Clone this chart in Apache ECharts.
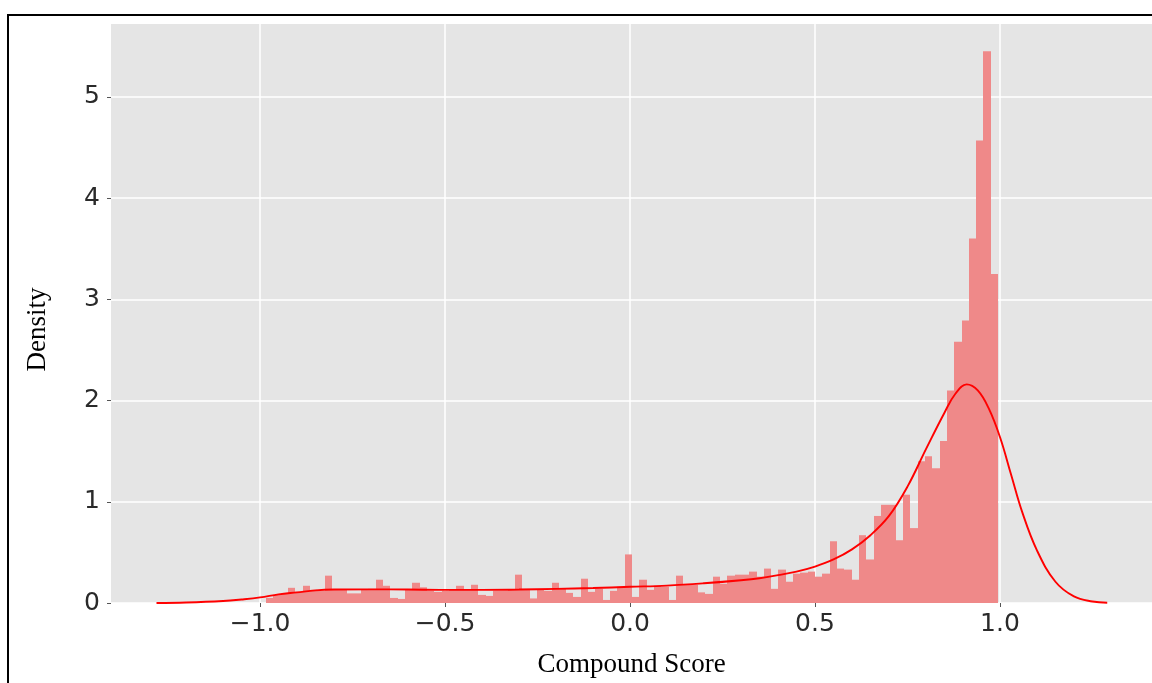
<!DOCTYPE html>
<html><head><meta charset="utf-8">
<script src="https://cdn.jsdelivr.net/npm/echarts@6/dist/echarts.min.js"></script>
<style>html,body{margin:0;padding:0;background:#fff}#c{width:1152px;height:683px}</style>
</head><body><div id="c"></div>
<script>
// Histogram bins (density), 100 equal bins between binMin and binMax
const binMin = -0.984;
const binMax = 0.995;
const density = [
  0.05, 0.08, 0.09, 0.15, 0.11, 0.17, 0.13, 0.12, 0.27, 0.13,
  0.13, 0.095, 0.095, 0.13, 0.14, 0.23, 0.17, 0.05, 0.04, 0.13,
  0.20, 0.155, 0.12, 0.11, 0.12, 0.13, 0.17, 0.13, 0.18, 0.08,
  0.07, 0.12, 0.12, 0.13, 0.28, 0.13, 0.045, 0.13, 0.12, 0.20,
  0.14, 0.10, 0.06, 0.24, 0.11, 0.14, 0.03, 0.12, 0.16, 0.48,
  0.06, 0.23, 0.13, 0.17, 0.16, 0.03, 0.27, 0.18, 0.18, 0.105,
  0.09, 0.26, 0.19, 0.27, 0.28, 0.28, 0.31, 0.26, 0.34, 0.14,
  0.33, 0.21, 0.29, 0.30, 0.31, 0.26, 0.29, 0.61, 0.34, 0.33,
  0.23, 0.67, 0.43, 0.86, 0.97, 0.97, 0.62, 1.07, 0.74, 1.40,
  1.45, 1.33, 1.60, 2.10, 2.58, 2.79, 3.60, 4.57, 5.45, 3.25
];
// KDE curve
const kdeX = [-1.28, -1.2, -1.1, -1.05, -1.0, -0.95, -0.9, -0.85, -0.8, -0.7, -0.6, -0.5, -0.4, -0.3, -0.2, -0.1,
  0.0, 0.1, 0.2, 0.3, 0.35, 0.4, 0.45, 0.5, 0.55, 0.6, 0.65, 0.7, 0.75, 0.8, 0.85, 0.88, 0.91, 0.94, 0.97,
  1.0, 1.03, 1.06, 1.1, 1.15, 1.2, 1.25, 1.29];
const kdeY = [0.0, 0.005, 0.02, 0.035, 0.055, 0.085, 0.105, 0.125, 0.133, 0.135, 0.133, 0.13, 0.13, 0.133, 0.14, 0.148,
  0.16, 0.172, 0.195, 0.225, 0.245, 0.275, 0.31, 0.36, 0.43, 0.53, 0.67, 0.86, 1.15, 1.52, 1.88, 2.07, 2.16, 2.10, 1.92,
  1.64, 1.27, 0.90, 0.52, 0.21, 0.065, 0.015, 0.003];
const xTicks = [-1.0, -0.5, 0.0, 0.5, 1.0];
const yTicks = [0, 1, 2, 3, 4, 5];
const xMin = -1.403, xMax = 1.411;
const yMax = 5.72;

const binW = (binMax - binMin) / density.length;
const barData = density.map((d, i) => [binMin + i * binW, binMin + (i + 1) * binW, d]);
const kdeData = kdeX.map((x, i) => [x, kdeY[i]]);
const fmt = v => v.toFixed(1).replace('-', '\u2212');

const chart = echarts.init(document.getElementById('c'), null, {renderer: 'canvas'});
chart.setOption({
  animation: false,
  backgroundColor: '#fff',
  grid: {left: 111, top: 24, right: 0, bottom: 80, show: true, backgroundColor: '#e5e5e5', borderWidth: 0},
  xAxis: {
    type: 'value', min: xMin, max: xMax,
    name: 'Compound Score', nameLocation: 'middle', nameGap: 48,
    nameTextStyle: {fontFamily: 'Liberation Serif', fontSize: 27, color: '#000'},
    axisLine: {show: false, onZero: false},
    axisTick: {show: true, length: 4, lineStyle: {color: '#555'}, customValues: xTicks},
    axisLabel: {customValues: xTicks, formatter: fmt, fontFamily: 'DejaVu Sans', fontSize: 25, color: '#2a2a2a', margin: 9},
    splitLine: {show: true, lineStyle: {color: '#fff', width: 1.5}}
  },
  yAxis: {
    type: 'value', min: 0, max: yMax, interval: 1,
    name: 'Density', nameLocation: 'middle', nameGap: 60, nameRotate: 90,
    nameTextStyle: {fontFamily: 'Liberation Serif', fontSize: 27, color: '#000', padding: [0, 32, 0, 0]},
    axisLine: {show: false, onZero: false},
    axisTick: {show: true, length: 4, lineStyle: {color: '#555'}, customValues: yTicks},
    axisLabel: {customValues: yTicks, fontFamily: 'DejaVu Sans', fontSize: 25, color: '#2a2a2a', margin: 11,
      formatter: v => String(Math.round(v))},
    splitLine: {show: true, lineStyle: {color: '#fff', width: 1.5}}
  },
  graphic: [{
    type: 'rect', silent: true, z: 100,
    shape: {x: 8, y: 15, width: 1170, height: 700},
    style: {fill: null, stroke: '#000', lineWidth: 2}
  }],
  series: [
    {
      type: 'custom', z: 2,
      data: barData,
      encode: {x: [0, 1], y: 2},
      renderItem: (params, api) => {
        const p0 = api.coord([api.value(0), api.value(2)]);
        const p1 = api.coord([api.value(1), 0]);
        const x0 = Math.round(p0[0]), x1 = Math.round(p1[0]);
        return {type: 'rect', shape: {x: x0, y: p0[1], width: x1 - x0, height: p1[1] - p0[1]},
          style: {fill: '#ef8989'}};
      }
    },
    {
      type: 'line', z: 3, data: kdeData, smooth: 0.4, showSymbol: false,
      lineStyle: {color: '#ff0000', width: 1.9}
    }
  ]
});
</script>
</body></html>
